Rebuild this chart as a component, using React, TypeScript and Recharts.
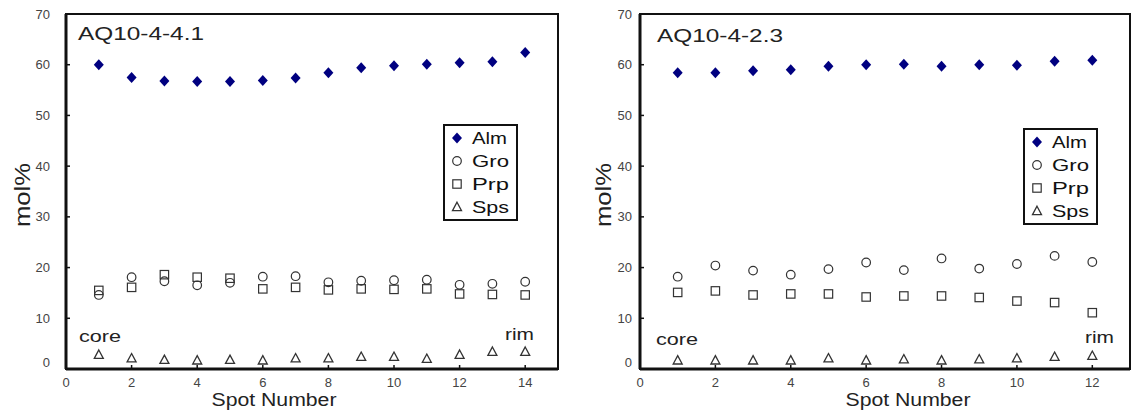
import React from 'react';
import { ScatterChart, Scatter, XAxis, YAxis, ReferenceArea, Legend } from 'recharts';

// Left panel: AQ10-4-4.1 (14 spots)
const spotsA = [1, 2, 3, 4, 5, 6, 7, 8, 9, 10, 11, 12, 13, 14];
const almA = [60.0, 57.5, 56.8, 56.7, 56.7, 56.9, 57.4, 58.4, 59.4, 59.8, 60.1, 60.4, 60.6, 62.4];
const groA = [14.6, 18.1, 17.3, 16.5, 17.0, 18.2, 18.3, 17.1, 17.4, 17.5, 17.6, 16.6, 16.8, 17.2];
const prpA = [15.5, 16.1, 18.6, 18.1, 17.9, 15.8, 16.1, 15.6, 15.8, 15.7, 15.8, 14.8, 14.7, 14.6];
const spsA = [2.8, 2.1, 1.8, 1.7, 1.8, 1.7, 2.1, 2.1, 2.4, 2.4, 2.0, 2.8, 3.4, 3.4];

// Right panel: AQ10-4-2.3 (12 spots)
const spotsB = [1, 2, 3, 4, 5, 6, 7, 8, 9, 10, 11, 12];
const almB = [58.4, 58.4, 58.8, 59.0, 59.7, 60.0, 60.1, 59.7, 60.0, 59.9, 60.7, 60.9];
const groB = [18.2, 20.4, 19.4, 18.6, 19.7, 21.0, 19.5, 21.8, 19.8, 20.7, 22.3, 21.1];
const prpB = [15.1, 15.4, 14.6, 14.8, 14.8, 14.2, 14.4, 14.4, 14.1, 13.4, 13.1, 11.1];
const spsB = [1.7, 1.7, 1.7, 1.7, 2.1, 1.7, 1.9, 1.7, 1.9, 2.1, 2.4, 2.6];

const seriesNames = ['Alm', 'Gro', 'Prp', 'Sps'];
const xTicksA = [0, 2, 4, 6, 8, 10, 12, 14];
const xTicksB = [0, 2, 4, 6, 8, 10, 12];
const yTicks = [0, 10, 20, 30, 40, 50, 60, 70];

const FONT = '"Liberation Sans", Arial, sans-serif';
const INK = '#333';
const NAVY = '#000080';

const toPoints = (xs: number[], ys: number[]) => xs.map((x, i) => ({ x, y: ys[i] }));

const Marker = ({ kind, cx, cy }: { kind: string; cx: number; cy: number }) => {
  if (kind === 'Alm')
    return <polygon points={`${cx},${cy - 5.5} ${cx + 5},${cy} ${cx},${cy + 5.5} ${cx - 5},${cy}`} fill={NAVY} />;
  if (kind === 'Gro') return <circle cx={cx} cy={cy} r={4.3} fill="none" stroke={INK} strokeWidth={1.2} />;
  if (kind === 'Prp') return <rect x={cx - 4.2} y={cy - 4.2} width={8.4} height={8.4} fill="none" stroke={INK} strokeWidth={1.2} />;
  return <polygon points={`${cx},${cy - 4.8} ${cx + 4.5},${cy + 3.6} ${cx - 4.5},${cy + 3.6}`} fill="none" stroke={INK} strokeWidth={1.3} />;
};

const shapeFor = (kind: string) => (p: any) => <Marker kind={kind} cx={p.cx} cy={p.cy} />;

const LegendBox = () => (
  <div style={{ width: 75, height: 97, border: '2px solid #111', boxSizing: 'border-box', background: '#fff' }}>
    <svg width={71} height={93}>
      {seriesNames.map((n, i) => (
        <g key={n}>
          <Marker kind={n} cx={12} cy={12 + i * 23} />
          <text x={27} y={18 + i * 23} fontSize={17} fontFamily={FONT} fill="#111" textLength={n === 'Alm' ? 35 : 37} lengthAdjust="spacingAndGlyphs">
            {n}
          </text>
        </g>
      ))}
    </svg>
  </div>
);

type PanelProps = {
  width: number;
  plotLeft: number;
  plotRight: number;
  xMax: number;
  xTicks: number[];
  yTickGap: number;
  title: string;
  data: number[][];
  spots: number[];
  legendPos: { left: number; top: number };
  coreX: number;
  coreY: number;
  rimX: number;
  rimY: number;
  titleX: number;
  titleY: number;
  molX: number;
  spotX: number;
};

const Panel = (pp: PanelProps) => {
  const top = 14;
  const bottom = 369;
  const yAxisW = 40;
  const xAxisH = 30;
  const height = 414;

  const YTick = (props: any) => {
    const { x, y, payload } = props;
    const axisX = x + pp.yTickGap;
    const zero = payload.value === 0;
    return (
      <g>
        {!zero && payload.value !== 70 && <line x1={axisX} x2={axisX + 4} y1={y} y2={y} stroke="#111" strokeWidth={1.5} />}
        <text x={x} y={zero ? y - 7 : y} textAnchor="end" dominantBaseline="central" fontSize={13} fontFamily={FONT} fill="#444">
          {payload.value}
        </text>
      </g>
    );
  };

  const XTick = (props: any) => {
    const { x, y, payload } = props;
    const axisY = y - 9;
    return (
      <g>
        {payload.value !== 0 && <line x1={x} x2={x} y1={axisY} y2={axisY - 4} stroke="#111" strokeWidth={1.5} />}
        <text x={x} y={y} dy="0.71em" textAnchor="middle" fontSize={13} fontFamily={FONT} fill="#444">
          {payload.value}
        </text>
      </g>
    );
  };

  return (
    <ScatterChart
      width={pp.width}
      height={height}
      margin={{ top, left: pp.plotLeft - yAxisW, right: pp.width - pp.plotRight, bottom: height - bottom - xAxisH }}
    >
      <ReferenceArea x1={0} x2={pp.xMax} y1={0} y2={70} fill="none" stroke="#111" strokeWidth={2} ifOverflow="visible" />
      <XAxis
        type="number"
        dataKey="x"
        domain={[0, pp.xMax]}
        ticks={pp.xTicks}
        height={xAxisH}
        tickSize={0}
        tickMargin={9}
        tick={<XTick />}
        axisLine={{ stroke: '#111', strokeWidth: 3 }}
        allowDataOverflow
      />
      <YAxis
        type="number"
        dataKey="y"
        domain={[0, 70]}
        ticks={yTicks}
        width={yAxisW}
        tickSize={0}
        tickMargin={pp.yTickGap}
        tick={<YTick />}
        axisLine={{ stroke: '#111', strokeWidth: 3 }}
        allowDataOverflow
      />
      {seriesNames.map((n, i) => (
        <Scatter
          key={n}
          name={n}
          data={toPoints(pp.spots, pp.data[i])}
          shape={shapeFor(n)}
          fill={i === 0 ? NAVY : INK}
          isAnimationActive={false}
        />
      ))}
      <Legend
        layout="vertical"
        align="center"
        verticalAlign="middle"
        content={() => <LegendBox />}
        wrapperStyle={{ left: pp.legendPos.left, top: pp.legendPos.top, width: 75, height: 97 }}
      />
      <text x={pp.titleX} y={pp.titleY} fontSize={18} fontFamily={FONT} fill="#222" textLength={126} lengthAdjust="spacingAndGlyphs">
        {pp.title}
      </text>
      <text x={pp.coreX} y={pp.coreY} fontSize={17} fontFamily={FONT} fill="#222" textLength={42} lengthAdjust="spacingAndGlyphs">
        core
      </text>
      <text x={pp.rimX} y={pp.rimY} fontSize={17} fontFamily={FONT} fill="#222" textLength={29} lengthAdjust="spacingAndGlyphs">
        rim
      </text>
      <text
        transform={`translate(${pp.molX},195) rotate(-90)`}
        textAnchor="middle"
        dominantBaseline="central"
        fontSize={22}
        fontFamily={FONT}
        fill="#222"
        textLength={64}
        lengthAdjust="spacingAndGlyphs"
      >
        mol%
      </text>
      <text x={pp.spotX} y={406} textAnchor="middle" fontSize={18} fontFamily={FONT} fill="#222" textLength={125} lengthAdjust="spacingAndGlyphs">
        Spot Number
      </text>
    </ScatterChart>
  );
};

export default function App() {
  return (
    <div style={{ position: 'fixed', left: 0, top: 0, width: 1132, height: 414, background: '#fff', display: 'flex' }}>
      <Panel
        width={566}
        plotLeft={66}
        plotRight={558}
        xMax={15}
        xTicks={xTicksA}
        yTickGap={16}
        title="AQ10-4-4.1"
        data={[almA, groA, prpA, spsA]}
        spots={spotsA}
        legendPos={{ left: 443, top: 124 }}
        coreX={79}
        coreY={342}
        rimX={505}
        rimY={340}
        titleX={78}
        titleY={40}
        molX={22}
        spotX={274}
      />
      <Panel
        width={566}
        plotLeft={74}
        plotRight={564}
        xMax={13}
        xTicks={xTicksB}
        yTickGap={8}
        title="AQ10-4-2.3"
        data={[almB, groB, prpB, spsB]}
        spots={spotsB}
        legendPos={{ left: 457, top: 128 }}
        coreX={90}
        coreY={345}
        rimX={519}
        rimY={343}
        titleX={91}
        titleY={42}
        molX={37}
        spotX={342}
      />
    </div>
  );
}
